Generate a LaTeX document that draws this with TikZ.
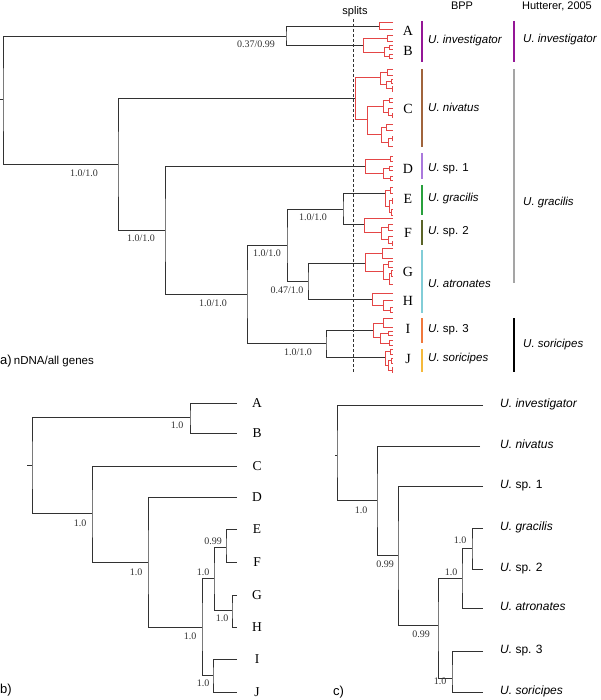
\documentclass[tikz,border=0pt]{standalone}
\usepackage{fontspec}
\setmainfont{Liberation Sans}
\newfontfamily\tms{Liberation Serif}
\usetikzlibrary{positioning}
\definecolor{cTree}{RGB}{50,50,50}
\definecolor{cRed} {RGB}{228,70,70}
\definecolor{cInv} {RGB}{148,22,150}
\definecolor{cNiv} {RGB}{160,100,60}
\definecolor{cSpA} {RGB}{170,120,220}
\definecolor{cGra} {RGB}{40,160,60}
\definecolor{cSpB} {RGB}{90,100,40}
\definecolor{cAtr} {RGB}{130,205,215}
\definecolor{cSpC} {RGB}{240,120,60}
\definecolor{cSor} {RGB}{245,185,60}
\definecolor{cHut} {RGB}{165,165,165}
\tikzset{
  %% tree branches
  BR/.style ={draw=cTree, line width=0.8pt},
  RED/.style={draw=cRed, line width=0.75pt},
  %% coloured species bars
  BAR/.style={draw=#1, line width=2.6pt},
  %% support values, tip letters, species names
  SUP/.style={font=\tms\fontsize{10}{12}\selectfont, inner sep=0pt, text=cTree},
  TIP/.style={font=\tms\fontsize{14}{16}\selectfont, inner sep=0pt},
  SP/.style ={font=\fontsize{11.5}{13}\selectfont, anchor=west, inner sep=0pt,
              text height=0.72em, text depth=0.2em},
  HD/.style ={font=\fontsize{11}{13}\selectfont, inner sep=0pt},
  PNL/.style={font=\fontsize{13}{15}\selectfont, anchor=west, inner sep=0pt},
}

\begin{document}
\begin{tikzpicture}[x=1pt, y=-1pt]
\useasboundingbox (0,0) rectangle (600,700);

%% ════════════════════════════════════════════════
%%  a) nDNA / all genes
%% ════════════════════════════════════════════════

%% internal nodes (x of vertical, y of stem)
\coordinate (root) at (3,99);
\coordinate (n1) at (286,36);
\coordinate (n2) at (118,164);
\coordinate (n3) at (165,230);
\coordinate (n4) at (247,294);
\coordinate (n5) at (287,245);
\coordinate (n6) at (343,209);
\coordinate (n7) at (308,281);
\coordinate (n8) at (326,343);

%% where the black stems meet the red clades
\coordinate (tA) at (379,26);
\coordinate (tB) at (363,45);
\coordinate (tC) at (355,98);
\coordinate (tD) at (365,166);
\coordinate (tE) at (385,193);
\coordinate (tF) at (364,224);
\coordinate (tG) at (365,263);
\coordinate (tH) at (372,299);
\coordinate (tI) at (373,330);
\coordinate (tJ) at (385,357);

\draw[BR] (root) -- ++(-3,0);
\draw[BR] (n1) -| (root) |- (n2);
\draw[BR] (tA) -| (n1) |- (tB);
\draw[BR] (tC) -| (n2) |- (n3);
\draw[BR] (tD) -| (n3) |- (n4);
\draw[BR] (n5) -| (n4) |- (n8);
\draw[BR] (n6) -| (n5) |- (n7);
\draw[BR] (tE) -| (n6) |- (tF);
\draw[BR] (tG) -| (n7) |- (tH);
\draw[BR] (tI) -| (n8) |- (tJ);

%% red gene-tree clades: x / top y / bottom y / top end / bottom end
\foreach \x/\ya/\yb/\xa/\xb in {
  379/22/29/393/393,
  363/38/52/387/384, 387/35/41/393/393, 384/47/56/389/389,
  389/45/49/393/393, 389/54/58/393/393,
  355/77/119/380/367, 380/72/84/387/386, 387/69/75/393/393,
  386/81/88/391/392, 391/79/83/393/393, 392/86/91/393/393,
  367/106/134/383/381, 383/100/112/389/388, 389/98/102/393/393,
  388/108/115/393/392, 392/113/117/393/393,
  381/127/142/386/388, 386/124/130/393/393, 388/138/146/392/393,
  392/136/140/393/393,
  365/159/173/390/383, 390/156/161/393/393, 383/168/178/389/390,
  389/166/170/393/393, 390/176/180/393/393,
  385/190/206/390/389, 390/187/193/393/393, 389/200/212/392/391,
  392/198/203/393/393, 391/209/215/393/393,
  364/218/232/393/381, 381/227/239/388/388, 388/224/230/393/393,
  388/236/243/393/392, 392/241/245/393/393,
  365/253/271/382/383, 382/248/258/393/393, 383/264/279/388/389,
  388/261/267/393/393, 389/273/284/391/393, 391/270/276/393/393,
  372/293/305/393/383, 383/300/310/393/390, 390/307/312/393/393,
  373/323/337/383/380, 383/318/327/393/393, 380/333/343/388/389,
  388/331/335/393/393, 389/340/345/393/393,
  385/351/365/390/388, 390/349/354/393/393, 388/360/370/391/392,
  391/358/363/393/393, 392/367/372/393/393}
  \draw[RED] (\xa,\ya) -- (\x,\ya) -- (\x,\yb) -- (\xb,\yb);

%% support values
\node[SUP] (sR)  at (84,173)  {1.0/1.0};
\node[SUP] (sAB) at (256,44)  {0.37/0.99};
\node[SUP] (s3)  at (141,238) {1.0/1.0};
\node[SUP] (s4)  at (213,303) {1.0/1.0};
\node[SUP] (s5)  at (267,253) {1.0/1.0};
\node[SUP] (s6)  at (313,217) {1.0/1.0};
\node[SUP] (s7)  at (287,290) {0.47/1.0};
\node[SUP] (s8)  at (298,352) {1.0/1.0};

%% splits line
\node[HD] (splits) at (355,12) {splits};
\coordinate (dashT) at (353,19);
\coordinate (dashB) at (353,373);
\draw[cTree, line width=0.6pt, dash pattern=on 3pt off 2pt] (dashT) -- (dashB);

%% clade letters
\foreach \t/\y in {A/31, B/51, C/109, D/169, E/199, F/233, G/272, H/301, I/329, J/359}
  \node[TIP] (la\t) at (408,\y) {\t};

%% BPP column
\node[HD] (bpp) at (462,6) {BPP};
\foreach \c/\ya/\yb in {cInv/21/62, cNiv/69/147, cSpA/153/179, cGra/185/215,
                        cSpB/220/245, cAtr/250/313, cSpC/318/343, cSor/349/372}
  \draw[BAR=\c] (422,\ya) -- (422,\yb);
\node[SP] (bppInv) at (428,41)  {\textit{U. investigator}};
\node[SP] (bppNiv) at (428,109) {\textit{U. nivatus}};
\node[SP] (bppSp1) at (428,169) {\textit{U.} sp. 1};
\node[SP] (bppGra) at (428,199) {\textit{U. gracilis}};
\node[SP] (bppSp2) at (428,232) {\textit{U.} sp. 2};
\node[SP] (bppAtr) at (428,285) {\textit{U. atronates}};
\node[SP] (bppSp3) at (428,330) {\textit{U.} sp. 3};
\node[SP] (bppSor) at (428,359) {\textit{U. soricipes}};

%% Hutterer column
\node[HD] (hut) at (557,6) {Hutterer, 2005};
\draw[BAR=cInv]  (514,21)  -- (514,62);
\draw[BAR=cHut]  (514,69)  -- (514,283);
\draw[BAR=black] (514,318) -- (514,372);
\node[SP] (hutInv) at (523,40)  {\textit{U. investigator}};
\node[SP] (hutGra) at (523,203) {\textit{U. gracilis}};
\node[SP] (hutSor) at (523,345) {\textit{U. soricipes}};

\node[PNL] (pa) at (0,361) {a)\,{\fontsize{11.5}{13}\selectfont nDNA/all genes}};

%% ════════════════════════════════════════════════
%%  b) clade tree
%% ════════════════════════════════════════════════
\coordinate (rb) at (32,465);
\coordinate (b1) at (190,417);
\coordinate (b2) at (92,513);
\coordinate (b3) at (148,562);
\coordinate (b4) at (202,627);
\coordinate (b5) at (214,578);
\coordinate (b6) at (226,547);
\coordinate (b7) at (232,610);
\coordinate (b8) at (213,675);

\foreach \t/\y in {A/403, B/433, C/466, D/497, E/529, F/562, G/595, H/627, I/659, J/692}
{
  \coordinate (b\t) at (237,\y);
  \node[TIP, font=\tms\fontsize{13.5}{15}\selectfont] (lb\t) at (257,\y) {\t};
}

\draw[BR] (rb) -- ++(-5,0);
\draw[BR] (b1) -| (rb) |- (b2);
\draw[BR] (bA) -| (b1) |- (bB);
\draw[BR] (bC) -| (b2) |- (b3);
\draw[BR] (bD) -| (b3) |- (b4);
\draw[BR] (b5) -| (b4) |- (b8);
\draw[BR] (b6) -| (b5) |- (b7);
\draw[BR] (bE) -| (b6) |- (bF);
\draw[BR] (bG) -| (b7) |- (bH);
\draw[BR] (bI) -| (b8) |- (bJ);

\node[SUP] (sb1) at (177,425) {1.0};
\node[SUP] (sb2) at (80,523)  {1.0};
\node[SUP] (sb3) at (136,572) {1.0};
\node[SUP] (sb4) at (190,636) {1.0};
\node[SUP] (sb5) at (203,572) {1.0};
\node[SUP] (sb6) at (213,541) {0.99};
\node[SUP] (sb7) at (222,618) {1.0};
\node[SUP] (sb8) at (203,683) {1.0};

\node[PNL] (pb) at (0,690) {b)};

%% ════════════════════════════════════════════════
%%  c) species tree
%% ════════════════════════════════════════════════
\coordinate (rc) at (337,455);
\coordinate (c1) at (377,500);
\coordinate (c2) at (398,555);
\coordinate (c3) at (438,625);
\coordinate (c4) at (462,578);
\coordinate (c5) at (472,548);
\coordinate (c6) at (452,678);

\coordinate (cInvT) at (483,405);
\coordinate (cNivT) at (480,446);
\coordinate (cSp1T) at (483,486);
\coordinate (cGraT) at (483,528);
\coordinate (cSp2T) at (483,569);
\coordinate (cAtrT) at (483,608);
\coordinate (cSp3T) at (483,651);
\coordinate (cSorT) at (483,692);

\draw[BR] (rc) -- ++(-2,0);
\draw[BR] (cInvT) -| (rc) |- (c1);
\draw[BR] (cNivT) -| (c1) |- (c2);
\draw[BR] (cSp1T) -| (c2) |- (c3);
\draw[BR] (c4) -| (c3) |- (c6);
\draw[BR] (c5) -| (c4) |- (cAtrT);
\draw[BR] (cGraT) -| (c5) |- (cSp2T);
\draw[BR] (cSp3T) -| (c6) |- (cSorT);

\node[SP, font=\fontsize{12}{14}\selectfont] (lcInv) at (500,405) {\textit{U. investigator}};
\node[SP, font=\fontsize{12}{14}\selectfont] (lcNiv) at (500,446) {\textit{U. nivatus}};
\node[SP, font=\fontsize{12}{14}\selectfont] (lcSp1) at (500,486) {\textit{U.} sp. 1};
\node[SP, font=\fontsize{12}{14}\selectfont] (lcGra) at (500,528) {\textit{U. gracilis}};
\node[SP, font=\fontsize{12}{14}\selectfont] (lcSp2) at (500,569) {\textit{U.} sp. 2};
\node[SP, font=\fontsize{12}{14}\selectfont] (lcAtr) at (500,608) {\textit{U. atronates}};
\node[SP, font=\fontsize{12}{14}\selectfont] (lcSp3) at (500,651) {\textit{U.} sp. 3};
\node[SP, font=\fontsize{12}{14}\selectfont] (lcSor) at (500,692) {\textit{U. soricipes}};

\node[SUP] (sc1) at (361,510) {1.0};
\node[SUP] (sc2) at (385,564) {0.99};
\node[SUP] (sc3) at (421,634) {0.99};
\node[SUP] (sc4) at (451,572) {1.0};
\node[SUP] (sc5) at (460,540) {1.0};
\node[SUP] (sc6) at (440,681) {1.0};

\node[PNL] (pc) at (333,692) {c)};

\end{tikzpicture}
\end{document}
